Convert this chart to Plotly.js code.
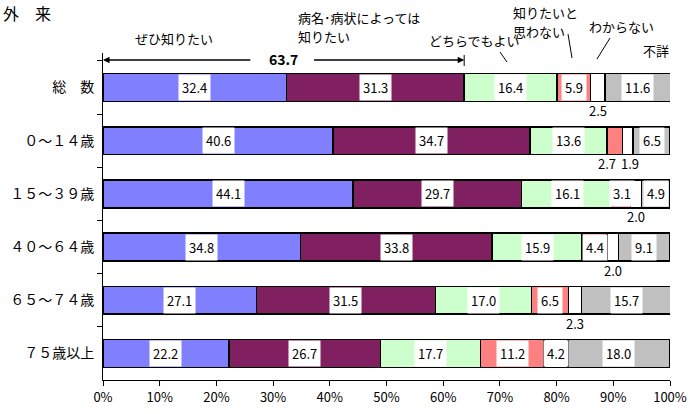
<!DOCTYPE html>
<html><head><meta charset="utf-8">
<script src="https://cdn.plot.ly/plotly-3.0.1.min.js"></script>
<style>html,body{margin:0;padding:0;background:#fff}#chart{width:690px;height:414px}</style>
</head><body><div id="chart"></div>
<script>
const categories = ['総　数','０～１４歳','１５～３９歳','４０～６４歳','６５～７４歳','７５歳以上'];
const seriesNames = ['ぜひ知りたい','病名･病状によっては知りたい','どちらでもよい','知りたいと思わない','わからない','不詳'];
const zehi     = [32.4, 40.6, 44.1, 34.8, 27.1, 22.2];
const byoumei  = [31.3, 34.7, 29.7, 33.8, 31.5, 26.7];
const dochira  = [16.4, 13.6, 16.1, 15.9, 17.0, 17.7];
const omowanai = [5.9, 2.7, 3.1, 4.4, 6.5, 11.2];
const wakaranai= [2.5, 1.9, 2.0, 2.0, 2.3, 4.2];
const fushou   = [11.6, 6.5, 4.9, 9.1, 15.7, 18.0];
const xTicks = [0,10,20,30,40,50,60,70,80,90,100];
const series = [zehi, byoumei, dochira, omowanai, wakaranai, fushou];
const colors = ['#8080FF','#802060','#CCFFCC','#FF8080','#FFFFFF','#C0C0C0'];

const W=690,H=414,L=103,R=670,T=53,B=380;
const px = x => (x-L)/(R-L);
const py = y => (B-y)/(B-T);
const FONT = 'Noto Sans CJK JP, sans-serif';

const traces = series.map((vals,i)=>({
  type:'bar', orientation:'h', name:seriesNames[i],
  x: vals, y: categories,
  marker:{color:colors[i], line:{color:'#000', width:1.5}},
  hoverinfo:'skip', showlegend:false
}));

const annotations = [];
categories.forEach((cat,ci)=>{
  let start = 0;
  const below = [];
  series.forEach((vals,si)=>{
    const v = vals[ci];
    const c = start + v/2;
    if (v < 3) {
      below.push({c, v, si});
    } else {
      annotations.push({x:c, y:cat, xref:'x', yref:'y', text:v.toFixed(1), showarrow:false,
        bgcolor:'#fff', borderpad:3, font:{family:FONT, size:13, color:'#000'}});
    }
    start += v;
  });
  below.forEach((b,k)=>{
    const adj = below.length>1 ? (k < below.length-1 ? -8 : 2) : 0;
    annotations.push({x:b.c, y:cat, xref:'x', yref:'y', text:b.v.toFixed(1), showarrow:false,
      yshift:-23, xshift:adj, font:{family:FONT, size:13, color:'#000'}});
  });
});

// 63.7 bracket
const top2 = zehi[0] + byoumei[0];
const ay = py(60);
annotations.push({x:top2/2, y:py(59), xref:'x', yref:'paper', yanchor:'middle', text:'<b>'+top2.toFixed(1)+'</b>', showarrow:false,
  font:{family:FONT, size:14, color:'#000'}});
annotations.push({x:0, y:ay, xref:'x', yref:'paper', ax:top2/2-5.6, ay:ay, axref:'x', ayref:'paper',
  text:'', showarrow:true, arrowhead:2, arrowsize:1, arrowwidth:1.3, arrowcolor:'#000'});
annotations.push({x:top2, y:ay, xref:'x', yref:'paper', ax:top2/2+5.1, ay:ay, axref:'x', ayref:'paper',
  text:'', showarrow:true, arrowhead:2, arrowsize:1, arrowwidth:1.3, arrowcolor:'#000'});

const lab = (x,y,text,anchor) => annotations.push({x:px(x), y:py(y), xref:'paper', yref:'paper', text, showarrow:false,
  xanchor:anchor||'left', yanchor:'middle', align:'left', borderpad:0, font:{family:FONT, size:13, color:'#000'}});
lab(134,38,'ぜひ知りたい');
lab(297,18,'病名･病状によっては');
lab(297,36,'知りたい');
lab(428,40,'どちらでもよい');
lab(512,13,'知りたいと');
lab(512,31,'思わない');
lab(588,26,'わからない');
lab(670,51,'不詳','right');

const line = (x0,y0,x1,y1) => ({type:'line', xref:'paper', yref:'paper', x0:px(x0), y0:py(y0), x1:px(x1), y1:py(y1),
  line:{color:'#000', width:1}});
const shapes = [
  {type:'line', xref:'x', yref:'paper', x0:top2, x1:top2, y0:py(55), y1:py(66), line:{color:'#000', width:1}},
  line(500,52,507,62),
  line(568,34,572,58),
  line(610,38,597,59)
];

const layout = {
  width:W, height:H, margin:{l:L, r:W-R, t:T, b:H-B},
  paper_bgcolor:'#fff', plot_bgcolor:'#fff',
  barmode:'stack', bargap:0.477,
  font:{family:FONT, color:'#000'},
  title:{text:'外　来', xref:'container', yref:'container', x:3/W, xanchor:'left', y:1-14/H, yanchor:'middle',
    font:{family:FONT, size:16, color:'#000'}},
  xaxis:{range:[0,100], tickvals:xTicks, ticktext:xTicks.map(t=>t+'%'), showgrid:false, zeroline:false,
    showline:true, linecolor:'#000', linewidth:1, ticks:'outside', ticklen:5, tickcolor:'#000',
    tickfont:{family:FONT, size:13, color:'#000'}, fixedrange:true},
  yaxis:{type:'category', categoryorder:'array', categoryarray:categories, autorange:'reversed',
    showgrid:false, zeroline:false, showline:true, linecolor:'#000', linewidth:1,
    ticks:'outside', tickson:'boundaries', ticklen:5, tickcolor:'#000', ticklabelstandoff:5,
    tickfont:{family:FONT, size:14, color:'#000'}, fixedrange:true},
  annotations, shapes
};
Plotly.newPlot('chart', traces, layout, {displayModeBar:false, staticPlot:true});
</script></body></html>
